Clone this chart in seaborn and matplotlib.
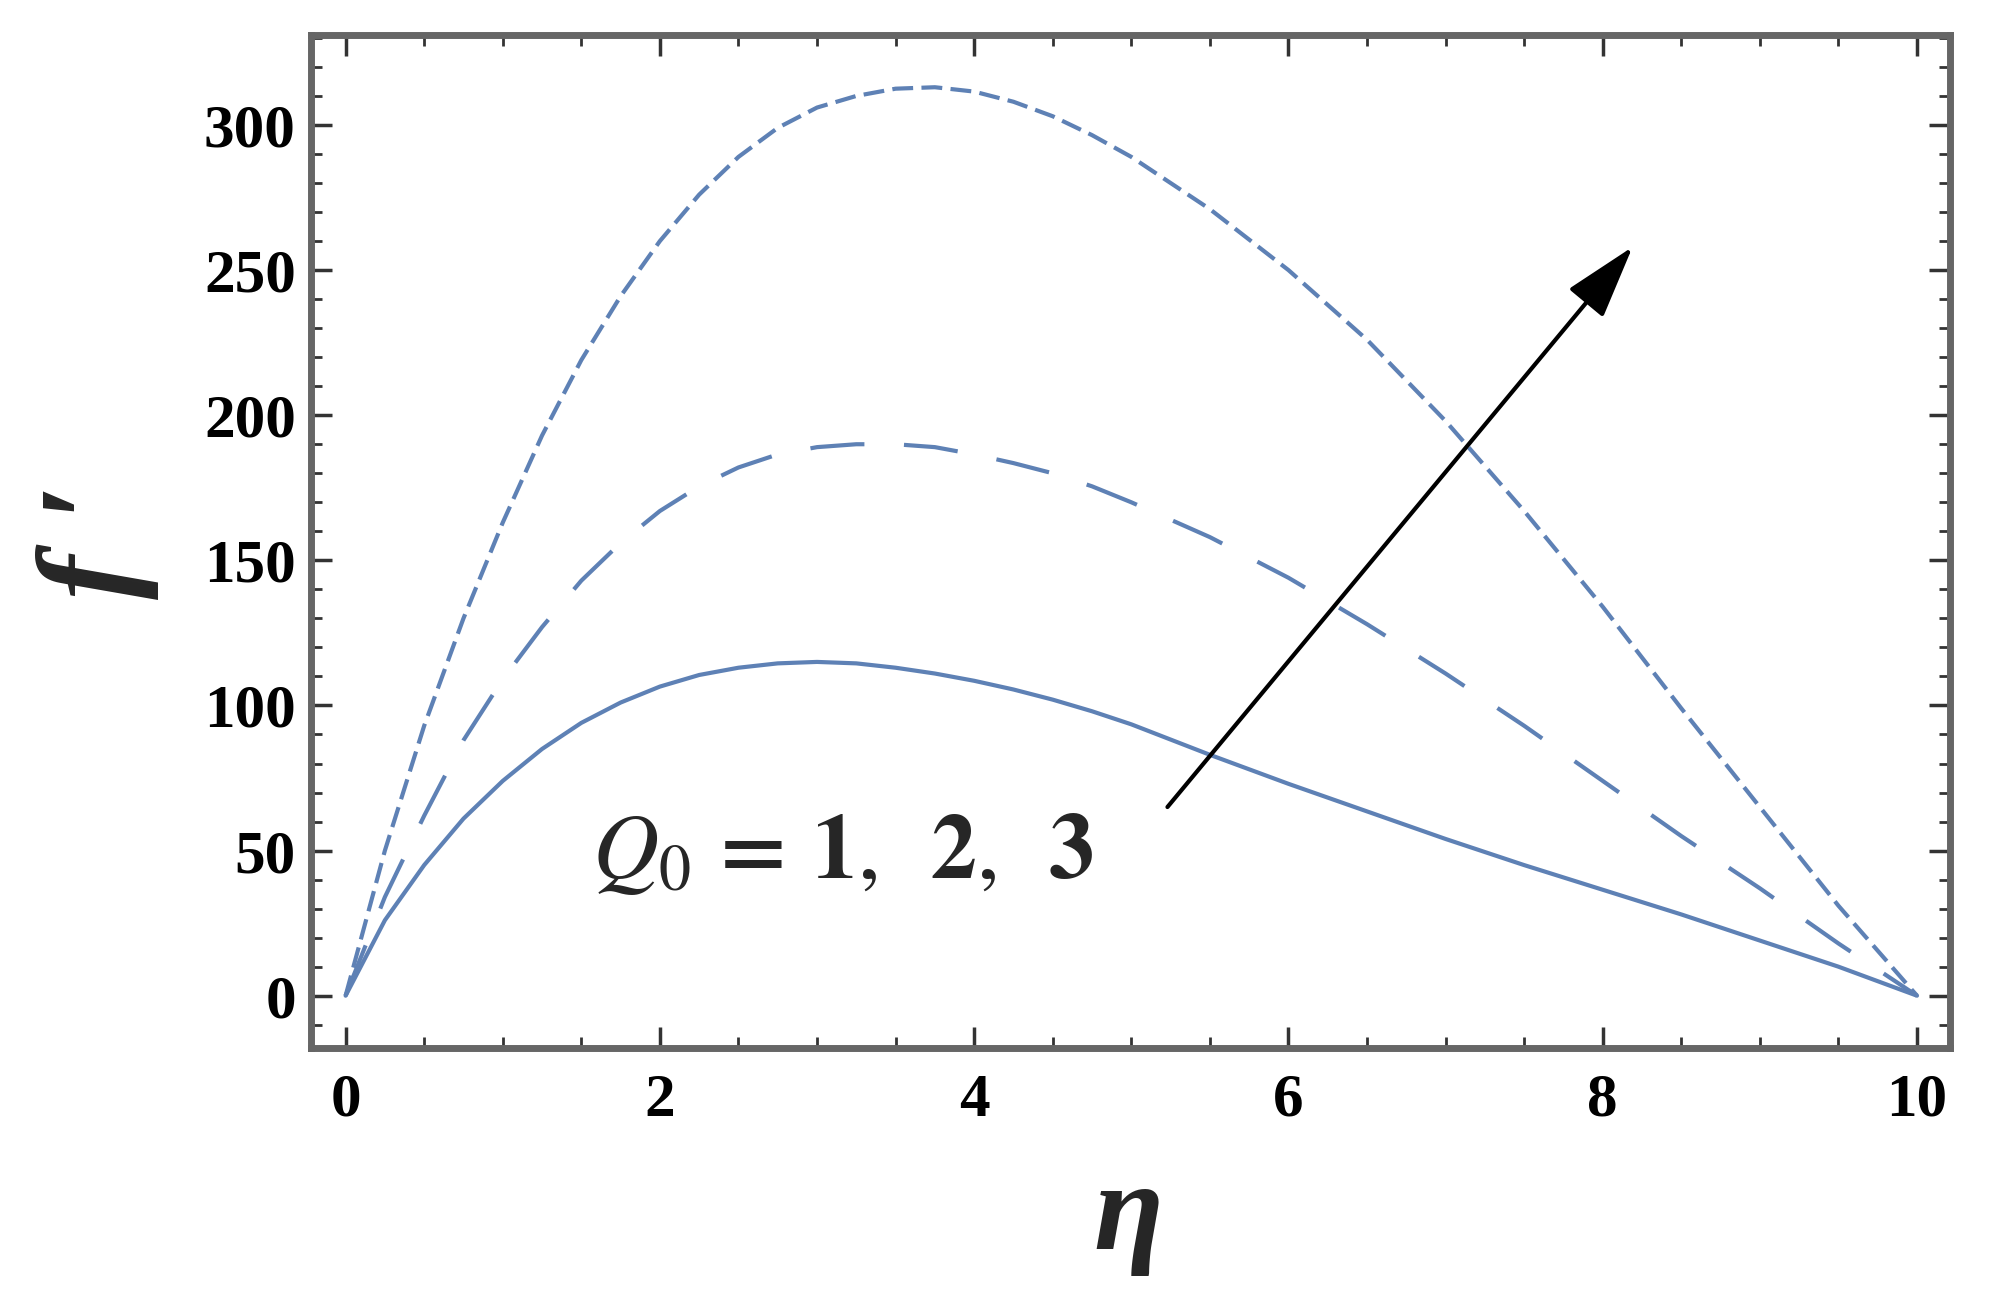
import numpy as np
import pandas as pd
import matplotlib
matplotlib.use("Agg")
import matplotlib.pyplot as plt
import seaborn as sns
from matplotlib.ticker import MultipleLocator

# values
eta = [0, 0.25, 0.5, 0.75, 1.0, 1.25, 1.5, 1.75, 2.0, 2.25, 2.5, 2.75,
       3.0, 3.25, 3.5, 3.75, 4.0, 4.25, 4.5, 4.75, 5.0,
       5.5, 6.0, 6.5, 7.0, 7.5, 8.0, 8.5, 9.0, 9.5, 10.0]

f_q1 = [0, 26, 45, 61, 74, 85, 94, 101, 106.5, 110.5, 113, 114.5,
        115, 114.5, 113, 111, 108.5, 105.5, 102, 98, 93.5,
        83, 73, 63.5, 54, 45, 36.5, 28, 19, 10, 0]

f_q2 = [0, 34, 62, 88, 109, 127, 143, 156, 167, 175.5, 182, 186.5,
        189, 190, 190, 189, 186.5, 183.5, 180, 175.5, 170,
        158, 144, 128, 111, 93, 74, 55, 37, 18, 0]

f_q3 = [0, 50, 93, 130, 163, 193, 219, 241, 260, 276, 289, 299,
        306, 310, 312.5, 313, 311.5, 308, 303, 296.5, 289,
        271, 250, 226, 198, 167, 134, 99, 65, 31, 0]

q_values = ["1", "2", "3"]

x_ticks = [0, 2, 4, 6, 8, 10]
y_ticks = [0, 50, 100, 150, 200, 250, 300]

arrow_start = (5.23, 65)
arrow_end = (8.19, 258)

df = pd.concat([
    pd.DataFrame({"eta": eta, "f": f_q1, "Q0": q_values[0]}),
    pd.DataFrame({"eta": eta, "f": f_q2, "Q0": q_values[1]}),
    pd.DataFrame({"eta": eta, "f": f_q3, "Q0": q_values[2]}),
])

sns.set_theme(style="ticks")
plt.rcParams["font.family"] = ["Liberation Serif", "DejaVu Serif"]
plt.rcParams["mathtext.fontset"] = "stix"

fig = plt.figure(figsize=(19.9, 12.96), dpi=100)
ax = fig.add_axes([0.1563, 0.1914, 0.9799 - 0.1563, 0.973 - 0.1914])

line_color = "#5E81B5"

sns.lineplot(
    data=df,
    x="eta",
    y="f",
    style="Q0",
    dashes={"1": "", "2": (13, 9.5), "3": (5, 2)},
    color=line_color,
    linewidth=3,
    estimator=None,
    legend=False,
    ax=ax
)

ax.annotate(
    "",
    xy=arrow_end,
    xytext=arrow_start,
    arrowprops=dict(
        arrowstyle="-|>,head_length=46,head_width=14",
        mutation_scale=1,
        color="black",
        lw=3,
        shrinkA=0,
        shrinkB=0
    )
)

ax.text(
    1.57,
    40.6,
    r"$Q_0\,\mathbf{=}\,\mathbf{1},\;\;\mathbf{2},\;\;\mathbf{3}$",
    fontsize=66,
    ha="left",
    va="baseline"
)

ax.set_xlim(-0.22, 10.21)
ax.set_ylim(-18, 331)

ax.set_xticks(x_ticks)
ax.set_yticks(y_ticks)
ax.xaxis.set_minor_locator(MultipleLocator(0.5))
ax.yaxis.set_minor_locator(MultipleLocator(10))

ax.tick_params(
    which="both",
    direction="in",
    top=True,
    right=True,
    colors="#333333"
)
ax.tick_params(which="major", length=15, width=2.5)
ax.tick_params(which="minor", length=8, width=2)
ax.tick_params(axis="x", which="major", pad=18, labelsize=44, labelcolor="black")
ax.tick_params(axis="y", which="major", pad=11, labelsize=44, labelcolor="black")

for label in ax.get_xticklabels() + ax.get_yticklabels():
    label.set_fontweight("bold")

for spine in ax.spines.values():
    spine.set_color("#666666")
    spine.set_linewidth(5)

ax.set_xlabel(
    "η",
    fontsize=92,
    fontstyle="italic",
    fontweight="bold",
    va="center"
)
ax.xaxis.set_label_coords(0.499, -0.168)

ax.set_ylabel(
    "f \u2032",
    fontsize=96,
    fontstyle="italic",
    fontweight="bold",
    va="center"
)
ax.yaxis.set_label_coords(-0.130, 0.50)

fig.savefig("out.png", dpi=100)
plt.close(fig)
